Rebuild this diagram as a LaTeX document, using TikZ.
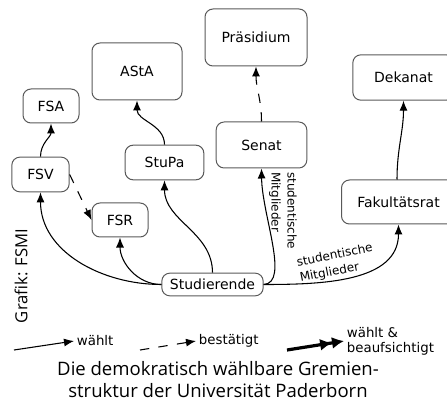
\documentclass[tikz,border=0pt]{standalone}
\usepackage{fontspec}
\setmainfont{DejaVu Sans}
\newfontfamily\titelschrift{Open Sans}
\usetikzlibrary{arrows.meta}

\tikzset{
	gremium/.style={draw=black!65, rounded corners=6pt, line width=0.75pt, inner sep=0pt, font=\fontsize{10.5}{12}\selectfont},
	waehlt/.style={->, line width=0.8pt},
	bestaetigt/.style={->, line width=0.8pt, dash pattern=on 7pt off 7pt},
	aufsicht/.style={-{Latex[length=9pt,width=9pt] Latex[length=9pt,width=9pt]}, line width=2.4pt},
	mitglieder/.style={font=\fontsize{9}{12}\selectfont, inner sep=1.5pt, align=left},
	legende/.style={anchor=west, font=\fontsize{10}{11.5}\selectfont, align=left, inner sep=2pt}
}

\begin{document}
\begin{tikzpicture}[x=0.75pt, y=-0.75pt, >={Latex[length=7.5pt,width=6pt]}]
	\useasboundingbox (0,0) rectangle (447,403);
% GREMIEN
	\node [gremium, minimum width=76.5pt, minimum height=42.75pt] (praesidium) at (256,37.5) {Präsidium};
	\node [gremium, minimum width=67.5pt, minimum height=42.75pt] (asta) at (137,71.5) {AStA};
	\node [gremium, minimum width=42pt, minimum height=25.5pt] (fsa) at (51,106) {FSA};
	\node [gremium, minimum width=59pt, minimum height=26pt] (stupa) at (164.5,162.5) {StuPa};
	\node [gremium, minimum width=68pt, minimum height=34.5pt] (senat) at (261.5,145) {Senat};
	\node [gremium, minimum width=76pt, minimum height=34pt] (dekanat) at (403.5,77.5) {Dekanat};
	\node [gremium, minimum width=43pt, minimum height=26pt] (fsv) at (40.5,174.5) {FSV};
	\node [gremium, minimum width=42pt, minimum height=25.5pt] (fsr) at (120,220) {FSR};
	\node [gremium, minimum width=85.5pt, minimum height=33pt] (fakrat) at (398.5,202) {Fakultätsrat};
	\node [gremium, minimum width=76pt, minimum height=17pt] (studis) at (212.5,284.5) {Studierende};
% VERBINDUNGEN
	\draw [waehlt] (studis.west) to [out=180, in=-90] (fsv.south);
	\draw [waehlt] (studis.west) to [out=180, in=-90] (fsr.south);
	\draw [waehlt] (studis.north) to [out=90, in=-90] (stupa.south);
	\draw [waehlt] (studis.east) .. controls (290,283) and (262,215) .. (senat.south)
		node [mitglieder, pos=0.72, anchor=south, rotate=-90] {studentische\\Mitglieder};
	\draw [waehlt] (studis.east) to [out=0, in=-90]
		node [mitglieder, pos=0.42, above, sloped] {studentische\\Mitglieder} (fakrat.south);
	\draw [waehlt] (fsv.north) to [out=90, in=-90] (fsa.south);
	\draw [bestaetigt] (fsv.east) -- (fsr.west);
	\draw [waehlt] (stupa.north) to [out=90, in=-90] (asta.south);
	\draw [bestaetigt] (senat.north) to [out=90, in=-90] (praesidium.south);
	\draw [waehlt] (fakrat.north -| 397,0) to [out=90, in=-90] (dekanat.south);
% LEGENDE
	\coordinate (lgwa) at (14,350);
	\coordinate (lgbe) at (140,350);
	\coordinate (lgau) at (287,350);
	\node [legende] (lgwaehlt) at (74,341) {wählt};
	\node [legende] (lgbest) at (196,341) {bestätigt};
	\node [legende] (lgaufs) at (344,341) {wählt \&\\beaufsichtigt};
	\draw [waehlt] (lgwa) -- (lgwaehlt.west);
	\draw [bestaetigt] (lgbe) -- (lgbest.west);
	\draw [aufsicht] (lgau) -- (lgaufs.west);
% TITEL
	\node [rotate=90, font=\titelschrift\fontsize{12.5}{14}\selectfont] (grafik) at (21,276) {Grafik: FSMI};
	\node [align=center, font=\titelschrift\fontsize{13.9}{16.5}\selectfont] (titel) at (218,380) {Die demokratisch wählbare Gremien-\\struktur der Universität Paderborn};
\end{tikzpicture}
\end{document}
